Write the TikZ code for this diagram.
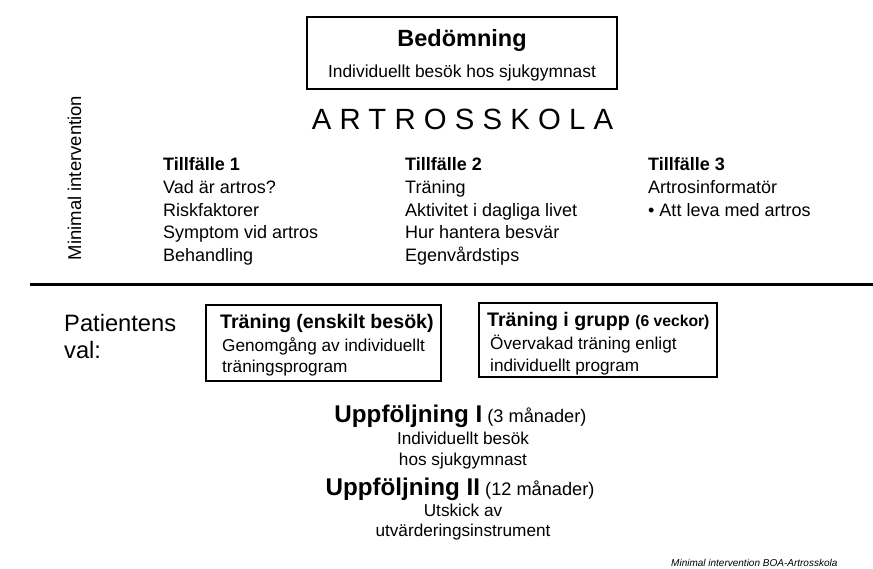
\documentclass[tikz,border=0pt]{standalone}
\usepackage{fontspec}
\setmainfont{Liberation Sans}

\newcommand{\fs}[1]{\fontsize{#1}{#1}\selectfont}

\begin{document}
\begin{tikzpicture}[x=1pt,y=-1pt,
	box/.style={draw, line width=1.1pt},
	txt/.style={inner sep=0pt, anchor=base west},
	ctr/.style={inner sep=0pt, anchor=base}]
	\useasboundingbox (0,0) rectangle (873,569);
	% bedomning
	\draw[box] (307,17) rectangle (617,89);
	\node[ctr, font=\fs{23.5}\bfseries] (bedomning) at (462,47) {Bedömning};
	\node[ctr, font=\fs{17.4}] (besok) at (462,78) {Individuellt besök hos sjukgymnast};
	% artrosskola
	\node[txt, font=\fs{29.3}\addfontfeature{LetterSpace=28}] (artrosskola) at (311.7,130) {ARTROSSKOLA};
	\node[ctr, rotate=90, font=\fs{18.5}] (minimal) at (81,178) {Minimal intervention};
	\foreach \x/\n in {163/1, 405/2, 648/3}
		\node[txt, font=\fs{18}\bfseries] (tf\n) at (\x,170.6) {Tillfälle \n};
	\foreach \t [count=\i] in {Vad är artros?, Riskfaktorer, Symptom vid artros, Behandling}
		\node[txt, font=\fs{18}] (ett\i) at (163,{170.6+22.8*\i}) {\t};
	\foreach \t [count=\i] in {Träning, Aktivitet i dagliga livet, Hur hantera besvär, Egenvårdstips}
		\node[txt, font=\fs{18}] (tva\i) at (405,{170.6+22.8*\i}) {\t};
	\foreach \t [count=\i] in {Artrosinformatör, • Att leva med artros}
		\node[txt, font=\fs{18}] (tre\i) at (648,{170.6+22.8*\i}) {\t};
	% linje
	\coordinate (linjeV) at (30,285);
	\coordinate (linjeH) at (873,285);
	\draw[line width=3pt] (linjeV) -- (linjeH);
	% patientens val
	\node[txt, font=\fs{23.7}] (patientens) at (64,332) {Patientens};
	\node[txt, font=\fs{23.7}] (val) at (64,359) {val:};
	\draw[box] (206,305) rectangle (441,381);
	\node[txt, font=\fs{19.6}\bfseries] (enskilt) at (220,329) {Träning (enskilt besök)};
	\node[txt, font=\fs{17.2}] (enskiltA) at (222,352) {Genomgång av individuellt};
	\node[txt, font=\fs{17.2}] (enskiltB) at (222,373) {träningsprogram};
	\draw[box] (479,303) rectangle (717,377);
	\node[txt, font=\fs{19.6}\bfseries] (grupp) at (487,326.5) {Träning i grupp {\fs{15.7}(6 veckor)}};
	\node[txt, font=\fs{17.2}] (gruppA) at (490,350) {Övervakad träning enligt};
	\node[txt, font=\fs{17.2}] (gruppB) at (490,371) {individuellt program};
	% uppfoljning
	\node[ctr] (uppI) at (460.5,422) {\fs{24.2}\bfseries Uppföljning I\fs{18.2}\mdseries{} (3 månader)};
	\node[ctr, font=\fs{17.2}] (uppIa) at (463,444) {Individuellt besök};
	\node[ctr, font=\fs{17.2}] (uppIb) at (463,465) {hos sjukgymnast};
	\node[ctr] (uppII) at (460,495) {\fs{24.2}\bfseries Uppföljning II\fs{18.2}\mdseries{} (12 månader)};
	\node[ctr, font=\fs{17.2}] (uppIIa) at (463,516) {Utskick av};
	\node[ctr, font=\fs{17.2}] (uppIIb) at (463,536) {utvärderingsinstrument};
	\node[txt, font=\fs{10}\itshape] (fot) at (671,566) {Minimal intervention BOA-Artrosskola};
\end{tikzpicture}
\end{document}
